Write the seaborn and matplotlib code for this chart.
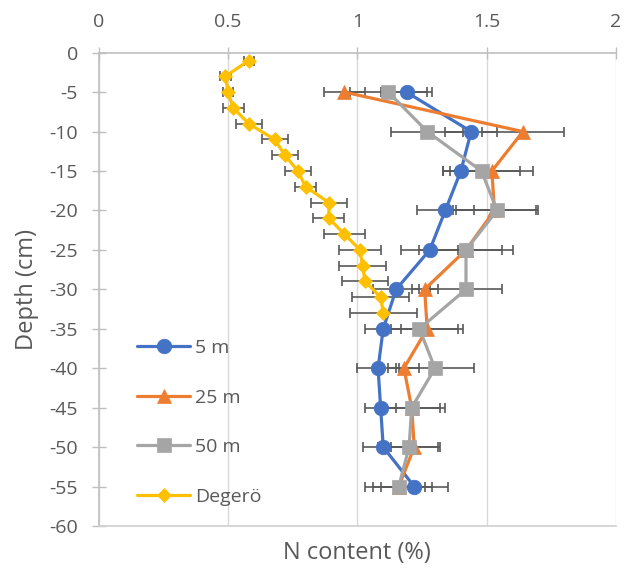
import matplotlib
matplotlib.use("Agg")
import matplotlib.pyplot as plt
import seaborn as sns
import pandas as pd

# ---- data ----
depth = [-5, -10, -15, -20, -25, -30, -35, -40, -45, -50, -55]
n_5m = [1.19, 1.44, 1.40, 1.34, 1.28, 1.15, 1.10, 1.08, 1.09, 1.10, 1.22]
err_5m = [0.10, 0.10, 0.07, 0.11, 0.11, 0.09, 0.07, 0.08, 0.06, 0.08, 0.13]
n_25m = [0.95, 1.64, 1.52, 1.53, 1.42, 1.26, 1.27, 1.18, 1.21, 1.22, 1.16]
err_25m = [0.08, 0.16, 0.16, 0.16, 0.14, 0.05, 0.14, 0.06, 0.11, 0.09, 0.10]
n_50m = [1.12, 1.27, 1.48, 1.54, 1.42, 1.42, 1.24, 1.30, 1.21, 1.20, 1.16]
err_50m = [0.15, 0.14, 0.15, 0.16, 0.18, 0.14, 0.15, 0.15, 0.13, 0.12, 0.13]

depth_deg = [-1, -3, -5, -7, -9, -11, -13, -15, -17, -19, -21, -23, -25, -27, -29, -31, -33]
n_deg = [0.58, 0.49, 0.50, 0.52, 0.58, 0.68, 0.72, 0.77, 0.80, 0.89, 0.89, 0.95, 1.01, 1.02, 1.03, 1.09, 1.10]
err_deg = [0.02, 0.02, 0.02, 0.04, 0.05, 0.05, 0.05, 0.05, 0.04, 0.07, 0.06, 0.08, 0.08, 0.09, 0.09, 0.11, 0.13]

series_names = ["5 m", "25 m", "50 m", "Degerö"]
x_ticks = [0, 0.5, 1, 1.5, 2]
x_tick_labels = ["0", "0.5", "1", "1.5", "2"]
y_ticks = list(range(-60, 1, 5))

frames = []
for name, d, n, e in zip(series_names,
                         [depth, depth, depth, depth_deg],
                         [n_5m, n_25m, n_50m, n_deg],
                         [err_5m, err_25m, err_50m, err_deg]):
    frames.append(pd.DataFrame({"series": name, "depth": d, "N": n, "err": e}))
df = pd.concat(frames, ignore_index=True)

colors = {"5 m": "#4472C4", "25 m": "#ED7D31", "50 m": "#A5A5A5", "Degerö": "#FFC000"}
markers = {"5 m": "o", "25 m": "^", "50 m": "s", "Degerö": "D"}
msizes = {"5 m": 10.5, "25 m": 10.5, "50 m": 9.5, "Degerö": 7.5}

sns.set_theme(style="white")
plt.rcParams["font.family"] = ["Open Sans", "DejaVu Sans"]
plt.rcParams["axes.unicode_minus"] = False
text_color = "#595959"

fig = plt.figure(figsize=(6.24, 5.69), dpi=100)
ax = fig.add_axes([0.1582, 0.0756, 0.829, 0.8318])

for i, name in enumerate(series_names):
    sub = df[df["series"] == name]
    ax.errorbar(sub["N"], sub["depth"], xerr=sub["err"], fmt="none",
                ecolor="#595959", elinewidth=1.2, capsize=3.8, capthick=1.2,
                zorder=2 + i * 0.1)
    sns.lineplot(data=sub, x="N", y="depth", sort=False, estimator=None,
                 color=colors[name], marker=markers[name], markersize=msizes[name],
                 markeredgecolor=colors[name], markeredgewidth=0.5,
                 linewidth=2.3, label=name, ax=ax, zorder=3 + i * 0.1)

ax.set_xlim(0, 2)
ax.set_ylim(-60, 0)
ax.set_xticks(x_ticks)
ax.set_xticklabels(x_tick_labels)
ax.set_yticks(y_ticks)
ax.set_yticklabels([str(v) for v in y_ticks])
ax.xaxis.tick_top()
ax.xaxis.set_label_position("bottom")

ax.grid(axis="x", color="#D9D9D9", linewidth=1.0)
ax.grid(axis="y", visible=False)
ax.set_axisbelow(True)

for side in ["left", "top"]:
    ax.spines[side].set_color("#BFBFBF")
    ax.spines[side].set_linewidth(1.2)
ax.spines["bottom"].set_color("#D0D0D0")
ax.spines["bottom"].set_linewidth(1.2)
ax.spines["right"].set_visible(False)

ax.tick_params(axis="x", which="major", top=True, bottom=False, direction="inout",
               length=9, width=1.0, color="#BFBFBF", pad=11,
               labelsize=14, labelcolor=text_color)
ax.tick_params(axis="y", which="major", left=True, direction="inout",
               length=10, width=1.0, color="#BFBFBF", pad=10,
               labelsize=14, labelcolor=text_color)

ax.set_xlabel("N content (%)", fontsize=17, color=text_color, labelpad=11)
ax.set_ylabel("Depth (cm)", fontsize=17, color=text_color, labelpad=7)

leg = ax.legend(loc="upper left", bbox_to_anchor=(0.074, 0.395), frameon=False,
                fontsize=14, handlelength=2.75, handletextpad=0.25,
                labelspacing=1.62, borderpad=0, borderaxespad=0)
for t in leg.get_texts():
    t.set_color(text_color)

fig.savefig("out.png", dpi=100)
